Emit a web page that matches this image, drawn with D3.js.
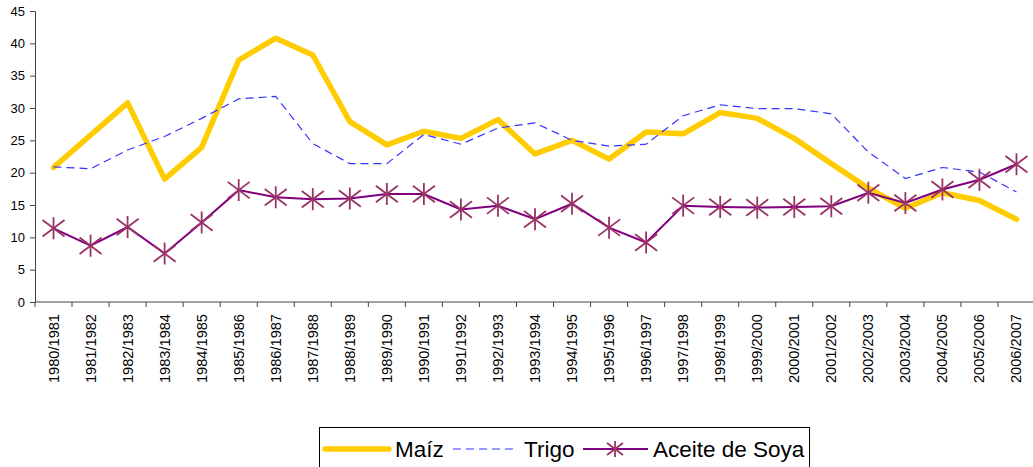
<!DOCTYPE html>
<html>
<head>
<meta charset="utf-8">
<script src="https://cdn.jsdelivr.net/npm/d3@7"></script>
<style>
  body { margin: 0; background: #fff; }
  text { font-family: "Liberation Sans", Arial, sans-serif; fill: #000; }
</style>
</head>
<body>
<svg id="chart" width="1033" height="467"></svg>
<script>
var years = ["1980/1981","1981/1982","1982/1983","1983/1984","1984/1985","1985/1986","1986/1987",
  "1987/1988","1988/1989","1989/1990","1990/1991","1991/1992","1992/1993","1993/1994","1994/1995",
  "1995/1996","1996/1997","1997/1998","1998/1999","1999/2000","2000/2001","2001/2002","2002/2003",
  "2003/2004","2004/2005","2005/2006","2006/2007"];
var maiz = [20.8,25.8,30.8,19.0,23.9,37.4,40.8,38.2,27.9,24.3,26.4,25.3,28.2,22.9,25.0,22.1,26.3,26.0,
  29.3,28.4,25.3,21.4,17.6,14.5,16.9,15.7,12.8];
var trigo = [20.9,20.6,23.5,25.6,28.4,31.4,31.8,24.5,21.4,21.4,25.9,24.4,26.9,27.7,25.0,24.1,24.4,28.8,
  30.5,29.9,29.9,29.1,23.2,19.1,20.8,20.1,17.0];
var soya = [11.4,8.7,11.6,7.5,12.3,17.3,16.2,15.9,16.0,16.7,16.7,14.3,14.9,12.8,15.2,11.5,9.2,14.9,
  14.7,14.6,14.7,14.8,16.9,15.3,17.4,18.9,21.3];
var yTicks = [0,5,10,15,20,25,30,35,40,45];

var margin = {top: 11, left: 35};
var width = 1000, height = 291;

var svg = d3.select("#chart");
var g = svg.append("g").attr("transform", "translate(" + margin.left + "," + margin.top + ")");

var x = d3.scaleBand().domain(years).range([0, width]);
var y = d3.scaleLinear().domain([0, 45]).range([height, 0]);

// y axis
var yAxis = g.append("g")
  .call(d3.axisLeft(y).tickValues(yTicks).tickSize(5).tickPadding(5));
yAxis.selectAll("text").style("font-size", "13px");
yAxis.select(".domain").attr("stroke", "#444");
yAxis.selectAll(".tick line").attr("stroke", "#444");

// x axis, ticks between categories
var xAxis = g.append("g").attr("transform", "translate(0," + height + ")");
xAxis.append("line").attr("x1", 0).attr("x2", width).attr("stroke", "#444");
xAxis.selectAll(".tk").data(d3.range(years.length + 1)).enter().append("line")
  .attr("x1", function(i) { return i * x.step(); })
  .attr("x2", function(i) { return i * x.step(); })
  .attr("y1", 0).attr("y2", 5).attr("stroke", "#444");
xAxis.selectAll(".lbl").data(years).enter().append("text")
  .attr("transform", function(d) { return "translate(" + (x(d) + x.bandwidth() / 2 + 5) + ",12) rotate(-90)"; })
  .style("text-anchor", "end")
  .style("font-size", "14.6px")
  .text(function(d) { return d; });

var cx = function(d, i) { return x(years[i]) + x.bandwidth() / 2; };
var line = d3.line().x(cx).y(function(d) { return y(d); });

g.append("path").datum(maiz).attr("d", line)
  .attr("fill", "none").attr("stroke", "#FFCC00").attr("stroke-width", 5.5).attr("stroke-linejoin", "round").attr("stroke-linecap", "round");
g.append("path").datum(trigo).attr("d", line)
  .attr("fill", "none").attr("stroke", "#3333FF").attr("stroke-width", 1.2).attr("stroke-dasharray", "8,5");
g.append("path").datum(soya).attr("d", line)
  .attr("fill", "none").attr("stroke", "#800080").attr("stroke-width", 2);

function star(sel, r) {
  sel.append("line").attr("x1", 0).attr("x2", 0).attr("y1", -r).attr("y2", r);
  sel.append("line").attr("x1", -r).attr("x2", r).attr("y1", -r * 0.75).attr("y2", r * 0.75);
  sel.append("line").attr("x1", -r).attr("x2", r).attr("y1", r * 0.75).attr("y2", -r * 0.75);
  sel.attr("stroke", "#993366").attr("stroke-width", 1.8);
}
g.selectAll(".mk").data(soya).enter().append("g")
  .attr("transform", function(d, i) { return "translate(" + cx(d, i) + "," + y(d) + ")"; })
  .call(star, 11);

// legend
var lg = svg.append("g");
lg.append("rect").attr("x", 319.5).attr("y", 427.5).attr("width", 490).attr("height", 50)
  .attr("fill", "#fff").attr("stroke", "#000");
var ly = 449;
lg.append("line").attr("x1", 325).attr("x2", 389).attr("y1", ly).attr("y2", ly)
  .attr("stroke", "#FFCC00").attr("stroke-width", 5.5).attr("stroke-linecap", "round");
lg.append("text").attr("x", 395).attr("y", ly + 8).style("font-size", "22.5px").text("Maíz");
lg.append("line").attr("x1", 453).attr("x2", 517).attr("y1", ly).attr("y2", ly)
  .attr("stroke", "#3333FF").attr("stroke-width", 1.2).attr("stroke-dasharray", "8,5");
lg.append("text").attr("x", 524).attr("y", ly + 8).style("font-size", "22.5px").text("Trigo");
lg.append("line").attr("x1", 583).attr("x2", 648).attr("y1", ly).attr("y2", ly)
  .attr("stroke", "#800080").attr("stroke-width", 2);
lg.append("g").attr("transform", "translate(615," + ly + ")").call(star, 8);
lg.append("text").attr("x", 653).attr("y", ly + 8).style("font-size", "22.5px").text("Aceite de Soya");
</script>
</body>
</html>
